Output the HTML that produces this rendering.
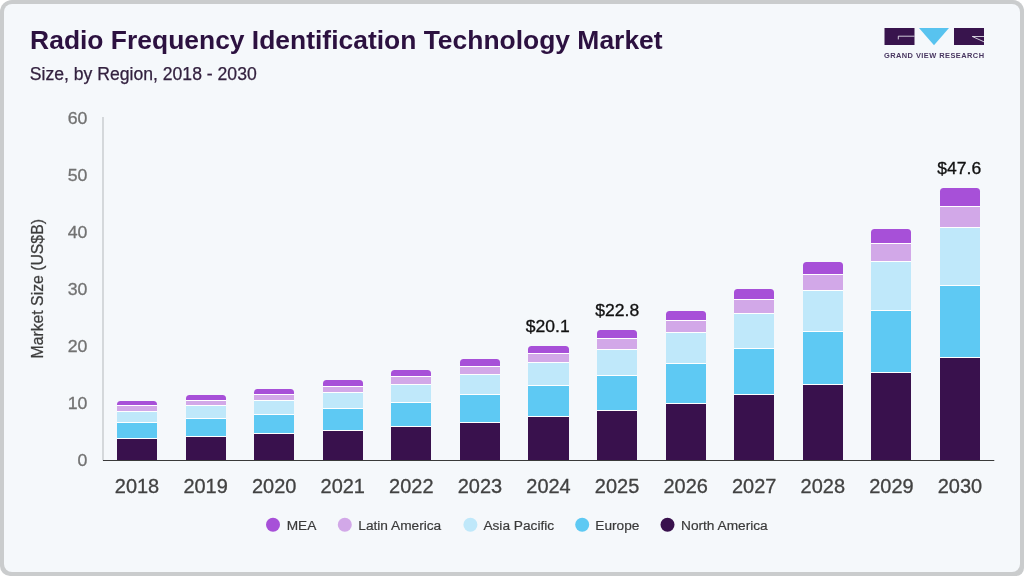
<!DOCTYPE html>
<html lang="en"><head><meta charset="utf-8"><title>Radio Frequency Identification Technology Market</title>
<style>
html,body{margin:0;padding:0;background:#fff;}
body{width:1024px;height:576px;overflow:hidden;font-family:"Liberation Sans",sans-serif;}
.card{position:absolute;left:0;top:0;width:1024px;height:576px;border-radius:12px 11px 8px 10px;background:#cacccd;}
.inner{position:absolute;left:4px;top:4px;right:4px;bottom:4px;border-radius:8px;background:#f5f8fb;}
svg{position:absolute;left:0;top:0;}
text{font-family:"Liberation Sans",sans-serif;}
</style></head><body>
<div class="card"><div class="inner"></div></div>
<svg width="1024" height="576" viewBox="0 0 1024 576">
<text x="30.1" y="48.8" font-size="26" font-weight="bold" fill="#2c1140" textLength="632.5" lengthAdjust="spacingAndGlyphs">Radio Frequency Identification Technology Market</text>
<text x="29.8" y="79.5" font-size="17.6" fill="#33213f" stroke="#33213f" stroke-width="0.25">Size, by Region, 2018 - 2030</text>
<g>
<rect x="884.5" y="28" width="30" height="17" fill="#38144d"/>
<path d="M914.5 36.2 H898.3 V39.4" fill="none" stroke="#f5f8fb" stroke-width="0.8"/>
<polygon points="919,28 949,28 934,45.3" fill="#58c3ef"/>
<rect x="954" y="28" width="30" height="17" fill="#38144d"/>
<path d="M984 36.5 H972.3 L984 41.8" fill="none" stroke="#f5f8fb" stroke-width="0.8"/>
<text transform="translate(883.9,57.9) scale(0.98,1)" font-size="7.6" font-weight="bold" fill="#483660" textLength="102.2" lengthAdjust="spacing">GRAND VIEW RESEARCH</text>
</g>
<line x1="103" y1="117" x2="103" y2="460.5" stroke="#bfc3c6" stroke-width="1.2"/>
<text transform="translate(87.4,466.3) scale(1.03,1)" font-size="17.2" fill="#727272" stroke="#727272" stroke-width="0.3" text-anchor="end">0</text>
<text transform="translate(87.4,409.2) scale(1.03,1)" font-size="17.2" fill="#727272" stroke="#727272" stroke-width="0.3" text-anchor="end">10</text>
<text transform="translate(87.4,352.1) scale(1.03,1)" font-size="17.2" fill="#727272" stroke="#727272" stroke-width="0.3" text-anchor="end">20</text>
<text transform="translate(87.4,295.1) scale(1.03,1)" font-size="17.2" fill="#727272" stroke="#727272" stroke-width="0.3" text-anchor="end">30</text>
<text transform="translate(87.4,238.0) scale(1.03,1)" font-size="17.2" fill="#727272" stroke="#727272" stroke-width="0.3" text-anchor="end">40</text>
<text transform="translate(87.4,180.9) scale(1.03,1)" font-size="17.2" fill="#727272" stroke="#727272" stroke-width="0.3" text-anchor="end">50</text>
<text transform="translate(87.4,123.8) scale(1.03,1)" font-size="17.2" fill="#727272" stroke="#727272" stroke-width="0.3" text-anchor="end">60</text>
<text transform="translate(43.4,288.8) rotate(-90)" font-size="16" fill="#3c3c3c" stroke="#3c3c3c" stroke-width="0.25" text-anchor="middle" textLength="139.4" lengthAdjust="spacingAndGlyphs">Market Size (US$B)</text>
<path d="M117 405.5 V404.5 Q117 401 120.5 401 H153.5 Q157 401 157 404.5 V405.5 Z" fill="#a750d8"/>
<rect x="117" y="405.5" width="40" height="6.00" fill="#d2a8e8"/>
<rect x="117" y="411.5" width="40" height="11.00" fill="#bfe8fa"/>
<rect x="117" y="422.5" width="40" height="16.00" fill="#5ec9f3"/>
<rect x="117" y="438.5" width="40" height="22.00" fill="#39114d"/>
<line x1="117" x2="157" y1="405.5" y2="405.5" stroke="#fff" stroke-width="1"/>
<line x1="117" x2="157" y1="411.5" y2="411.5" stroke="#fff" stroke-width="1"/>
<line x1="117" x2="157" y1="422.5" y2="422.5" stroke="#fff" stroke-width="1"/>
<line x1="117" x2="157" y1="438.5" y2="438.5" stroke="#fff" stroke-width="1"/>
<text transform="translate(137.0,493) scale(1.035,1)" font-size="19.3" fill="#424242" stroke="#424242" stroke-width="0.3" text-anchor="middle">2018</text>
<path d="M186 400.5 V398.5 Q186 395 189.5 395 H222.5 Q226 395 226 398.5 V400.5 Z" fill="#a750d8"/>
<rect x="186" y="400.5" width="40" height="5.00" fill="#d2a8e8"/>
<rect x="186" y="405.5" width="40" height="13.00" fill="#bfe8fa"/>
<rect x="186" y="418.5" width="40" height="18.00" fill="#5ec9f3"/>
<rect x="186" y="436.5" width="40" height="24.00" fill="#39114d"/>
<line x1="186" x2="226" y1="400.5" y2="400.5" stroke="#fff" stroke-width="1"/>
<line x1="186" x2="226" y1="405.5" y2="405.5" stroke="#fff" stroke-width="1"/>
<line x1="186" x2="226" y1="418.5" y2="418.5" stroke="#fff" stroke-width="1"/>
<line x1="186" x2="226" y1="436.5" y2="436.5" stroke="#fff" stroke-width="1"/>
<text transform="translate(205.57999999999998,493) scale(1.035,1)" font-size="19.3" fill="#424242" stroke="#424242" stroke-width="0.3" text-anchor="middle">2019</text>
<path d="M254 394.5 V392.5 Q254 389 257.5 389 H290.5 Q294 389 294 392.5 V394.5 Z" fill="#a750d8"/>
<rect x="254" y="394.5" width="40" height="6.00" fill="#d2a8e8"/>
<rect x="254" y="400.5" width="40" height="14.00" fill="#bfe8fa"/>
<rect x="254" y="414.5" width="40" height="19.00" fill="#5ec9f3"/>
<rect x="254" y="433.5" width="40" height="27.00" fill="#39114d"/>
<line x1="254" x2="294" y1="394.5" y2="394.5" stroke="#fff" stroke-width="1"/>
<line x1="254" x2="294" y1="400.5" y2="400.5" stroke="#fff" stroke-width="1"/>
<line x1="254" x2="294" y1="414.5" y2="414.5" stroke="#fff" stroke-width="1"/>
<line x1="254" x2="294" y1="433.5" y2="433.5" stroke="#fff" stroke-width="1"/>
<text transform="translate(274.15999999999997,493) scale(1.035,1)" font-size="19.3" fill="#424242" stroke="#424242" stroke-width="0.3" text-anchor="middle">2020</text>
<path d="M323 386.5 V383.5 Q323 380 326.5 380 H359.5 Q363 380 363 383.5 V386.5 Z" fill="#a750d8"/>
<rect x="323" y="386.5" width="40" height="6.00" fill="#d2a8e8"/>
<rect x="323" y="392.5" width="40" height="16.00" fill="#bfe8fa"/>
<rect x="323" y="408.5" width="40" height="22.00" fill="#5ec9f3"/>
<rect x="323" y="430.5" width="40" height="30.00" fill="#39114d"/>
<line x1="323" x2="363" y1="386.5" y2="386.5" stroke="#fff" stroke-width="1"/>
<line x1="323" x2="363" y1="392.5" y2="392.5" stroke="#fff" stroke-width="1"/>
<line x1="323" x2="363" y1="408.5" y2="408.5" stroke="#fff" stroke-width="1"/>
<line x1="323" x2="363" y1="430.5" y2="430.5" stroke="#fff" stroke-width="1"/>
<text transform="translate(342.74,493) scale(1.035,1)" font-size="19.3" fill="#424242" stroke="#424242" stroke-width="0.3" text-anchor="middle">2021</text>
<path d="M391 376.5 V373.5 Q391 370 394.5 370 H427.5 Q431 370 431 373.5 V376.5 Z" fill="#a750d8"/>
<rect x="391" y="376.5" width="40" height="8.00" fill="#d2a8e8"/>
<rect x="391" y="384.5" width="40" height="18.00" fill="#bfe8fa"/>
<rect x="391" y="402.5" width="40" height="24.00" fill="#5ec9f3"/>
<rect x="391" y="426.5" width="40" height="34.00" fill="#39114d"/>
<line x1="391" x2="431" y1="376.5" y2="376.5" stroke="#fff" stroke-width="1"/>
<line x1="391" x2="431" y1="384.5" y2="384.5" stroke="#fff" stroke-width="1"/>
<line x1="391" x2="431" y1="402.5" y2="402.5" stroke="#fff" stroke-width="1"/>
<line x1="391" x2="431" y1="426.5" y2="426.5" stroke="#fff" stroke-width="1"/>
<text transform="translate(411.32,493) scale(1.035,1)" font-size="19.3" fill="#424242" stroke="#424242" stroke-width="0.3" text-anchor="middle">2022</text>
<path d="M460 366.5 V362.5 Q460 359 463.5 359 H496.5 Q500 359 500 362.5 V366.5 Z" fill="#a750d8"/>
<rect x="460" y="366.5" width="40" height="8.00" fill="#d2a8e8"/>
<rect x="460" y="374.5" width="40" height="20.00" fill="#bfe8fa"/>
<rect x="460" y="394.5" width="40" height="28.00" fill="#5ec9f3"/>
<rect x="460" y="422.5" width="40" height="38.00" fill="#39114d"/>
<line x1="460" x2="500" y1="366.5" y2="366.5" stroke="#fff" stroke-width="1"/>
<line x1="460" x2="500" y1="374.5" y2="374.5" stroke="#fff" stroke-width="1"/>
<line x1="460" x2="500" y1="394.5" y2="394.5" stroke="#fff" stroke-width="1"/>
<line x1="460" x2="500" y1="422.5" y2="422.5" stroke="#fff" stroke-width="1"/>
<text transform="translate(479.9,493) scale(1.035,1)" font-size="19.3" fill="#424242" stroke="#424242" stroke-width="0.3" text-anchor="middle">2023</text>
<path d="M528 353.5 V349.5 Q528 346 531.5 346 H565.5 Q569 346 569 349.5 V353.5 Z" fill="#a750d8"/>
<rect x="528" y="353.5" width="41" height="9.00" fill="#d2a8e8"/>
<rect x="528" y="362.5" width="41" height="23.00" fill="#bfe8fa"/>
<rect x="528" y="385.5" width="41" height="31.00" fill="#5ec9f3"/>
<rect x="528" y="416.5" width="41" height="44.00" fill="#39114d"/>
<line x1="528" x2="569" y1="353.5" y2="353.5" stroke="#fff" stroke-width="1"/>
<line x1="528" x2="569" y1="362.5" y2="362.5" stroke="#fff" stroke-width="1"/>
<line x1="528" x2="569" y1="385.5" y2="385.5" stroke="#fff" stroke-width="1"/>
<line x1="528" x2="569" y1="416.5" y2="416.5" stroke="#fff" stroke-width="1"/>
<text transform="translate(548.48,493) scale(1.035,1)" font-size="19.3" fill="#424242" stroke="#424242" stroke-width="0.3" text-anchor="middle">2024</text>
<path d="M597 338.5 V333.5 Q597 330 600.5 330 H633.5 Q637 330 637 333.5 V338.5 Z" fill="#a750d8"/>
<rect x="597" y="338.5" width="40" height="11.00" fill="#d2a8e8"/>
<rect x="597" y="349.5" width="40" height="26.00" fill="#bfe8fa"/>
<rect x="597" y="375.5" width="40" height="35.00" fill="#5ec9f3"/>
<rect x="597" y="410.5" width="40" height="50.00" fill="#39114d"/>
<line x1="597" x2="637" y1="338.5" y2="338.5" stroke="#fff" stroke-width="1"/>
<line x1="597" x2="637" y1="349.5" y2="349.5" stroke="#fff" stroke-width="1"/>
<line x1="597" x2="637" y1="375.5" y2="375.5" stroke="#fff" stroke-width="1"/>
<line x1="597" x2="637" y1="410.5" y2="410.5" stroke="#fff" stroke-width="1"/>
<text transform="translate(617.06,493) scale(1.035,1)" font-size="19.3" fill="#424242" stroke="#424242" stroke-width="0.3" text-anchor="middle">2025</text>
<path d="M666 320.5 V314.5 Q666 311 669.5 311 H702.5 Q706 311 706 314.5 V320.5 Z" fill="#a750d8"/>
<rect x="666" y="320.5" width="40" height="12.00" fill="#d2a8e8"/>
<rect x="666" y="332.5" width="40" height="31.00" fill="#bfe8fa"/>
<rect x="666" y="363.5" width="40" height="40.00" fill="#5ec9f3"/>
<rect x="666" y="403.5" width="40" height="57.00" fill="#39114d"/>
<line x1="666" x2="706" y1="320.5" y2="320.5" stroke="#fff" stroke-width="1"/>
<line x1="666" x2="706" y1="332.5" y2="332.5" stroke="#fff" stroke-width="1"/>
<line x1="666" x2="706" y1="363.5" y2="363.5" stroke="#fff" stroke-width="1"/>
<line x1="666" x2="706" y1="403.5" y2="403.5" stroke="#fff" stroke-width="1"/>
<text transform="translate(685.64,493) scale(1.035,1)" font-size="19.3" fill="#424242" stroke="#424242" stroke-width="0.3" text-anchor="middle">2026</text>
<path d="M734 299.5 V292.5 Q734 289 737.5 289 H770.5 Q774 289 774 292.5 V299.5 Z" fill="#a750d8"/>
<rect x="734" y="299.5" width="40" height="14.00" fill="#d2a8e8"/>
<rect x="734" y="313.5" width="40" height="35.00" fill="#bfe8fa"/>
<rect x="734" y="348.5" width="40" height="46.00" fill="#5ec9f3"/>
<rect x="734" y="394.5" width="40" height="66.00" fill="#39114d"/>
<line x1="734" x2="774" y1="299.5" y2="299.5" stroke="#fff" stroke-width="1"/>
<line x1="734" x2="774" y1="313.5" y2="313.5" stroke="#fff" stroke-width="1"/>
<line x1="734" x2="774" y1="348.5" y2="348.5" stroke="#fff" stroke-width="1"/>
<line x1="734" x2="774" y1="394.5" y2="394.5" stroke="#fff" stroke-width="1"/>
<text transform="translate(754.22,493) scale(1.035,1)" font-size="19.3" fill="#424242" stroke="#424242" stroke-width="0.3" text-anchor="middle">2027</text>
<path d="M803 274.5 V265.5 Q803 262 806.5 262 H839.5 Q843 262 843 265.5 V274.5 Z" fill="#a750d8"/>
<rect x="803" y="274.5" width="40" height="16.00" fill="#d2a8e8"/>
<rect x="803" y="290.5" width="40" height="41.00" fill="#bfe8fa"/>
<rect x="803" y="331.5" width="40" height="53.00" fill="#5ec9f3"/>
<rect x="803" y="384.5" width="40" height="76.00" fill="#39114d"/>
<line x1="803" x2="843" y1="274.5" y2="274.5" stroke="#fff" stroke-width="1"/>
<line x1="803" x2="843" y1="290.5" y2="290.5" stroke="#fff" stroke-width="1"/>
<line x1="803" x2="843" y1="331.5" y2="331.5" stroke="#fff" stroke-width="1"/>
<line x1="803" x2="843" y1="384.5" y2="384.5" stroke="#fff" stroke-width="1"/>
<text transform="translate(822.8,493) scale(1.035,1)" font-size="19.3" fill="#424242" stroke="#424242" stroke-width="0.3" text-anchor="middle">2028</text>
<path d="M871 243.5 V232.5 Q871 229 874.5 229 H907.5 Q911 229 911 232.5 V243.5 Z" fill="#a750d8"/>
<rect x="871" y="243.5" width="40" height="18.00" fill="#d2a8e8"/>
<rect x="871" y="261.5" width="40" height="49.00" fill="#bfe8fa"/>
<rect x="871" y="310.5" width="40" height="62.00" fill="#5ec9f3"/>
<rect x="871" y="372.5" width="40" height="88.00" fill="#39114d"/>
<line x1="871" x2="911" y1="243.5" y2="243.5" stroke="#fff" stroke-width="1"/>
<line x1="871" x2="911" y1="261.5" y2="261.5" stroke="#fff" stroke-width="1"/>
<line x1="871" x2="911" y1="310.5" y2="310.5" stroke="#fff" stroke-width="1"/>
<line x1="871" x2="911" y1="372.5" y2="372.5" stroke="#fff" stroke-width="1"/>
<text transform="translate(891.38,493) scale(1.035,1)" font-size="19.3" fill="#424242" stroke="#424242" stroke-width="0.3" text-anchor="middle">2029</text>
<path d="M940 206.5 V191.5 Q940 188 943.5 188 H976.5 Q980 188 980 191.5 V206.5 Z" fill="#a750d8"/>
<rect x="940" y="206.5" width="40" height="21.00" fill="#d2a8e8"/>
<rect x="940" y="227.5" width="40" height="58.00" fill="#bfe8fa"/>
<rect x="940" y="285.5" width="40" height="72.00" fill="#5ec9f3"/>
<rect x="940" y="357.5" width="40" height="103.00" fill="#39114d"/>
<line x1="940" x2="980" y1="206.5" y2="206.5" stroke="#fff" stroke-width="1"/>
<line x1="940" x2="980" y1="227.5" y2="227.5" stroke="#fff" stroke-width="1"/>
<line x1="940" x2="980" y1="285.5" y2="285.5" stroke="#fff" stroke-width="1"/>
<line x1="940" x2="980" y1="357.5" y2="357.5" stroke="#fff" stroke-width="1"/>
<text transform="translate(959.96,493) scale(1.035,1)" font-size="19.3" fill="#424242" stroke="#424242" stroke-width="0.3" text-anchor="middle">2030</text>
<line x1="103" y1="460.5" x2="994.3" y2="460.5" stroke="#3a3a3a" stroke-width="1"/>
<text transform="translate(547.7,332.4) scale(1.07,1)" font-size="16.4" fill="#111" stroke="#111" stroke-width="0.3" text-anchor="middle">$20.1</text>
<text transform="translate(617.2,316.4) scale(1.07,1)" font-size="16.4" fill="#111" stroke="#111" stroke-width="0.3" text-anchor="middle">$22.8</text>
<text transform="translate(959.3,174.4) scale(1.07,1)" font-size="16.4" fill="#111" stroke="#111" stroke-width="0.3" text-anchor="middle">$47.6</text>
<circle cx="273" cy="524.8" r="7" fill="#a750d8"/>
<text transform="translate(286.7,530.4) scale(1.0,1)" font-size="13.7" fill="#3a3a3a" stroke="#3a3a3a" stroke-width="0.2">MEA</text>
<circle cx="344.8" cy="524.8" r="7" fill="#d2a8e8"/>
<text transform="translate(358.3,530.4) scale(1.0,1)" font-size="13.7" fill="#3a3a3a" stroke="#3a3a3a" stroke-width="0.2">Latin America</text>
<circle cx="470.4" cy="524.8" r="7" fill="#bfe8fa"/>
<text transform="translate(483.4,530.4) scale(1.0,1)" font-size="13.7" fill="#3a3a3a" stroke="#3a3a3a" stroke-width="0.2">Asia Pacific</text>
<circle cx="582.2" cy="524.8" r="7" fill="#5ec9f3"/>
<text transform="translate(595.3,530.4) scale(1.0,1)" font-size="13.7" fill="#3a3a3a" stroke="#3a3a3a" stroke-width="0.2">Europe</text>
<circle cx="667.5" cy="524.8" r="7" fill="#39114d"/>
<text transform="translate(681,530.4) scale(1.0,1)" font-size="13.7" fill="#3a3a3a" stroke="#3a3a3a" stroke-width="0.2">North America</text>
</svg>
</body></html>
